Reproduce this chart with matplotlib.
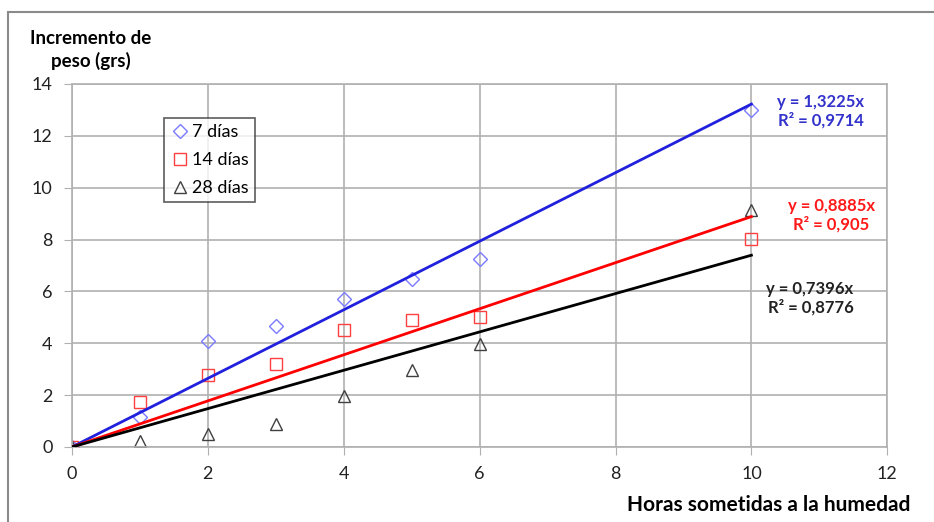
import matplotlib
matplotlib.use('Agg')
from matplotlib import pyplot as plt
from matplotlib.patches import Rectangle
import numpy as np

plt.rcParams['font.family'] = ['Lato', 'DejaVu Sans']

# data
horas = [0, 1, 2, 3, 4, 5, 6, 10]
dias7 = [0, 1.15, 4.08, 4.67, 5.70, 6.48, 7.26, 13.0]
dias14 = [0, 1.74, 2.78, 3.20, 4.50, 4.90, 5.02, 8.03]
dias28 = [0, 0.25, 0.50, 0.89, 1.97, 2.97, 3.98, 9.15]
pendientes = [1.3225, 0.8885, 0.7396]
r2 = ['0,9714', '0,905', '0,8776']
etiquetas = ['7 días', '14 días', '28 días']

fig = plt.figure(figsize=(9.34, 5.22), dpi=100)
ax = fig.add_axes([0.077, 0.1437, 0.873, 0.6954])

# outer chart frame (cut at right and bottom like the original)
fig.patches.append(Rectangle((8/934, -0.05), 1.2, 1 - 12/522 + 0.05,
                             transform=fig.transFigure, fill=False,
                             edgecolor='#8a8a8a', linewidth=1.5))

series = [dias7, dias14, dias28]
markers = ['D', 's', '^']
mcolors = ['#7b7bff', '#ff4040', '#404040']
lcolors = ['#2020dd', '#ff0000', '#000000']
msizes = [7, 8, 9]

for ys, m, mc, ms, lab in zip(series, markers, mcolors, msizes, etiquetas):
    ax.plot(horas, ys, linestyle='none', marker=m, markersize=ms,
            markerfacecolor='none', markeredgecolor=mc, markeredgewidth=1,
            label=lab)

xx = np.array([0, 10])
for p, lc in zip(pendientes, lcolors):
    ax.plot(xx, p * xx, color=lc, linewidth=2, zorder=3)

ax.set_xlim(0, 12)
ax.set_ylim(0, 14)
ax.set_xticks(range(0, 13, 2))
ax.set_yticks(range(0, 15, 2))
ax.grid(True, color='#b0b0b0', linewidth=1.2)
ax.set_axisbelow(True)
for s in ax.spines.values():
    s.set_color('#b0b0b0')
    s.set_linewidth(1.2)
ax.tick_params(direction='out', length=6, color='#b0b0b0', labelsize=13,
               labelcolor='#222222', pad=8)

leg = ax.legend(loc='upper left', bbox_to_anchor=(0.113, 0.906), fontsize=13,
                frameon=True, fancybox=False, handletextpad=0.1,
                handlelength=1.1, borderpad=0.35, labelspacing=0.65,
                borderaxespad=0)
leg.get_frame().set_edgecolor('#333333')
leg.get_frame().set_linewidth(1.2)

# regression equations
ax.text(11.66, 12.95, 'y = 1,3225x\nR² = ' + r2[0], color='#3333cc', fontsize=12,
        fontweight='bold', ha='right', va='center', linespacing=1.15)
ax.text(11.82, 8.95, 'y = 0,8885x\nR² = ' + r2[1], color='#ff1a1a', fontsize=12,
        fontweight='bold', ha='right', va='center', linespacing=1.15,
        multialignment='center')
ax.text(11.5, 5.75, 'y = 0,7396x\nR² = ' + r2[2], color='#222222', fontsize=12,
        fontweight='bold', ha='right', va='center', linespacing=1.15)

fig.text(91/934, 1 - 50/522, 'Incremento de\npeso (grs)', fontsize=13.5,
         fontweight='bold', ha='center', va='center', linespacing=1.3)
fig.text(910/934, 1 - 505/522, 'Horas sometidas a la humedad', fontsize=15,
         fontweight='bold', ha='right', va='center')

fig.savefig('out.png', dpi=100)
